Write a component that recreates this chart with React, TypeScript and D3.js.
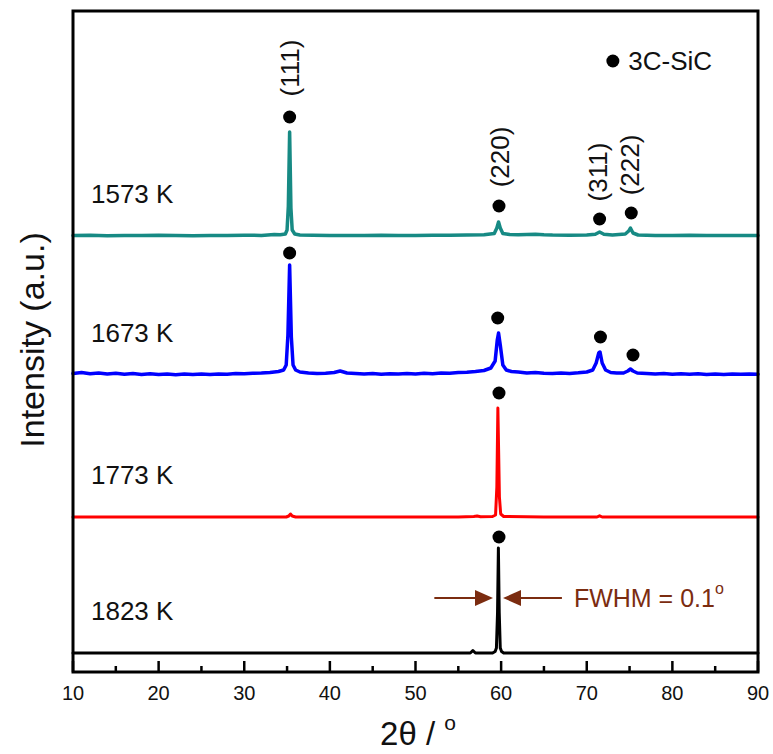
import React from 'react';
import * as d3 from 'd3';

// XRD patterns, intensity above each baseline (a.u.)
const samples = ['1573 K', '1673 K', '1773 K', '1823 K'];
const colors = ['#178a84', '#0000ff', '#ff0000', '#000000'];
const offsets = [436, 297, 155, 19];

const teal = [
  [10, 0.5], [12, 0.8], [14, 0.3], [16, 0.6], [18, 0.4], [20, 0.7], [22, 0.5], [24, 0.3],
  [26, 0.6], [28, 0.5], [30, 0.8], [32, 0.6], [33.5, 1.5], [34.2, 1.2], [34.8, 2], [35.0, 6],
  [35.15, 30], [35.3, 104], [35.45, 28], [35.6, 6], [35.9, 2], [36.5, 1], [38, 0.8], [40, 0.5],
  [42, 0.6], [44, 0.4], [46, 0.7], [48, 0.5], [50, 0.6], [52, 0.8], [54, 0.7], [56, 1.0],
  [58, 1.3], [59.2, 2.5], [59.5, 8], [59.7, 14], [59.9, 8], [60.2, 2.5], [61, 1.5], [62, 1.2],
  [63, 1.5], [64, 1.8], [65, 1.3], [66, 1], [68, 0.8], [70, 1], [71.0, 1.8], [71.5, 4],
  [72, 1.8], [73, 1], [74.5, 2], [74.9, 5], [75.1, 8], [75.4, 3], [76, 1], [78, 0.6],
  [80, 0.5], [82, 0.7], [84, 0.5], [86, 0.6], [88, 0.5], [90, 0.6],
];

const blue = [
  [10, 1.5], [11, 2.5], [12, 1.2], [13, 2], [14, 1], [15, 1.8], [16, 0.8], [17, 1.5],
  [18, 0.6], [19, 1.2], [20, 0.5], [21, 1], [22, 0.3], [23, 0.9], [24, 0.4], [25, 1],
  [26, 0.6], [27, 1.1], [28, 0.8], [29, 1.5], [30, 1.2], [31, 1.8], [32, 2], [33, 2.5],
  [34, 3.5], [34.6, 5], [34.9, 10], [35.1, 40], [35.3, 110], [35.5, 38], [35.7, 10], [36.0, 5],
  [36.5, 3], [37.5, 2], [38.5, 1.5], [39.5, 1.8], [40.5, 2.5], [41.2, 4], [42, 2], [43, 1.5],
  [44, 1], [45, 1.6], [46, 0.8], [47, 1.2], [48, 1], [49, 1.5], [50, 1], [51, 1.8],
  [52, 1.2], [53, 2], [54, 1.8], [55, 2.5], [56, 2.8], [57, 3.5], [58, 4.5], [58.8, 7],
  [59.3, 14], [59.55, 35], [59.7, 42], [59.9, 30], [60.2, 10], [60.6, 5], [61.2, 3.5], [62, 3],
  [63, 2], [64, 2.5], [65, 1.8], [66, 1.5], [67, 2], [68, 1.6], [69, 2.2], [70, 3],
  [70.7, 5], [71.1, 12], [71.4, 22], [71.55, 23], [71.8, 12], [72.2, 5], [72.8, 2.5], [73.5, 2],
  [74.3, 2], [74.8, 4], [75.1, 6], [75.4, 4], [75.9, 2], [77, 1.5], [78, 1], [79, 1.5],
  [80, 0.8], [81, 1.3], [82, 0.8], [83, 1.2], [84, 0.6], [85, 1], [86, 0.6], [87, 1.1],
  [88, 0.7], [89, 1], [90, 0.8],
];

const red = [
  [10, 0], [20, 0], [30, 0], [34.9, 0], [35.2, 1], [35.4, 3], [35.6, 1], [36, 0],
  [45, 0], [55, 0], [56.8, 0.5], [57.2, 1], [57.6, 0.3], [59.0, 0.5], [59.35, 2], [59.5, 30],
  [59.62, 109], [59.72, 60], [59.8, 20], [59.95, 3], [60.3, 0.5], [65, 0], [71.2, 0], [71.5, 1.2],
  [71.8, 0], [80, 0], [90, 0],
];

const black = [
  [10, 0], [30, 0], [45, 0], [56.4, 0], [56.7, 2.5], [57, 0], [59.0, 0], [59.3, 1.5],
  [59.45, 5], [59.58, 40], [59.68, 105], [59.78, 40], [59.9, 5], [60.05, 1.5], [60.3, 0],
  [70, 0], [80, 0], [90, 0],
];

const series = [teal, blue, red, black];

// 3C-SiC markers: [series index, 2θ, intensity above baseline]
const markers = [
  [0, 35.3, 119], [0, 59.75, 30], [0, 71.5, 17], [0, 75.2, 23],
  [1, 35.3, 122], [1, 59.6, 57], [1, 71.6, 38], [1, 75.4, 20],
  [2, 59.75, 124], [3, 59.75, 116],
];

// (hkl) labels: [text, 2θ, center intensity]
const hklLabels = [
  ['(111)', 35.4, 604], ['(220)', 59.9, 515], ['(311)', 71.3, 500], ['(222)', 75.1, 507],
];

const xTicks = [10, 20, 30, 40, 50, 60, 70, 80, 90];
const xMinor = [15, 25, 35, 45, 55, 65, 75, 85];

const W = 773;
const H = 754;
const margin = { top: 11, right: 15, bottom: 82, left: 73 };
const font = 'Arial, "Liberation Sans", sans-serif';
const brown = '#7b2c10';

export default function App() {
  const x = d3.scaleLinear().domain([10, 90]).range([margin.left, W - margin.right]);
  const y = d3.scaleLinear().domain([0, H - margin.top - margin.bottom]).range([H - margin.bottom, margin.top]);
  const bottom = H - margin.bottom;

  const lines = series.map((s, i) =>
    d3.line<number[]>()
      .x((d) => x(d[0]))
      .y((d) => y(d[1] + offsets[i]))(s)
  );

  const arrowY = y(74);
  const leftStart = x(52.2), leftTip = x(59.05);
  const rightStart = x(67.1), rightTip = x(60.22);

  return (
    <svg width={W} height={H} style={{ position: 'absolute', left: 0, top: 0, background: '#fff' }}
      fontFamily={font}>
      {/* traces */}
      {lines.map((p, i) => (
        <path key={i} d={p || ''} fill="none" stroke={colors[i]} strokeWidth={i < 2 ? 3.5 : 3}
          strokeLinejoin="round" strokeLinecap="round" />
      ))}

      {/* markers */}
      {markers.map((m, i) => (
        <circle key={i} cx={x(m[1])} cy={y(m[2] + offsets[m[0]])} r={6.5} fill="#000" />
      ))}

      {/* hkl labels */}
      {hklLabels.map((l, i) => (
        <text key={i} transform={`translate(${x(l[1] as number)},${y(l[2] as number)}) rotate(-90)`}
          textAnchor="middle" dominantBaseline="central" fontSize={26} fill="#111">{l[0]}</text>
      ))}

      {/* sample names */}
      {samples.map((s, i) => (
        <text key={s} x={x(12.1)} y={y(offsets[i] + 33)} fontSize={26} fill="#111">{s}</text>
      ))}

      {/* legend */}
      <circle cx={x(73.05)} cy={y(611)} r={6.5} fill="#000" />
      <text x={x(74.85)} y={y(611)} dominantBaseline="central" fontSize={26} fill="#111">3C-SiC</text>

      {/* FWHM annotation */}
      <line x1={leftStart} x2={leftTip - 16} y1={arrowY} y2={arrowY} stroke={brown} strokeWidth={2} />
      <path d={`M${leftTip},${arrowY} L${leftTip - 18},${arrowY - 8} L${leftTip - 18},${arrowY + 8} Z`} fill={brown} />
      <line x1={rightStart} x2={rightTip + 16} y1={arrowY} y2={arrowY} stroke={brown} strokeWidth={2} />
      <path d={`M${rightTip},${arrowY} L${rightTip + 18},${arrowY - 8} L${rightTip + 18},${arrowY + 8} Z`} fill={brown} />
      <text x={x(68.5)} y={arrowY} dominantBaseline="central" fontSize={25} fill={brown}>
        FWHM = 0.1<tspan fontSize={16} dy={-10}>o</tspan>
      </text>

      {/* frame */}
      <rect x={margin.left} y={margin.top} width={W - margin.left - margin.right}
        height={H - margin.top - margin.bottom} fill="none" stroke="#000" strokeWidth={3} />

      {/* x ticks */}
      {xTicks.map((t) => (
        <g key={t}>
          <line x1={x(t)} x2={x(t)} y1={bottom} y2={bottom - 11} stroke="#000" strokeWidth={2.5} />
          <text x={x(t)} y={bottom + 28} textAnchor="middle" fontSize={20} fill="#111">{t}</text>
        </g>
      ))}
      {xMinor.map((t) => (
        <line key={t} x1={x(t)} x2={x(t)} y1={bottom} y2={bottom - 6} stroke="#000" strokeWidth={2.5} />
      ))}

      {/* axis titles */}
      <text x={418} y={745} textAnchor="middle" fontSize={33} fill="#111">
        2θ / <tspan fontSize={21} dy={-15}>o</tspan>
      </text>
      <text transform="translate(32,340) rotate(-90)" textAnchor="middle" dominantBaseline="central"
        fontSize={34} fill="#111">Intensity (a.u.)</text>
    </svg>
  );
}
